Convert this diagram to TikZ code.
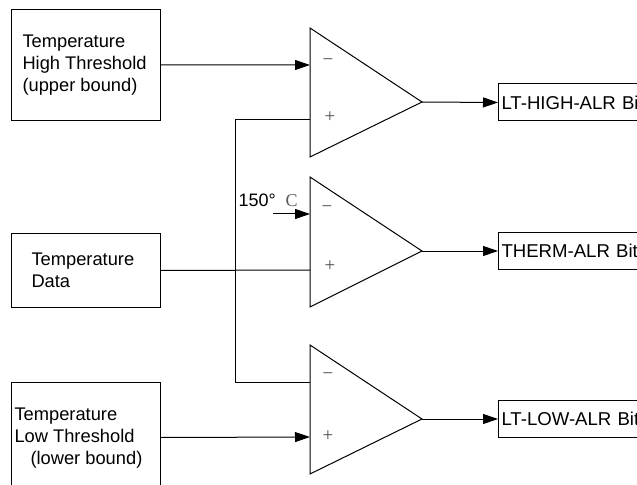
\documentclass[tikz,border=0pt]{standalone}
\usepackage{fontspec}
\setmainfont{Liberation Sans}
\newfontfamily\seriffont{Liberation Serif}
\usetikzlibrary{arrows.meta}
\begin{document}
\begin{tikzpicture}[x=1bp,y=-1bp, line width=1bp,
  box/.style={draw, inner sep=0pt},
  inbox/.style={box, anchor=north west, minimum width=149bp},
  outbox/.style={box, anchor=west, minimum height=37bp, text width=160bp, inner xsep=3bp, align=left,
     font=\fontsize{18.6bp}{22bp}\selectfont},
  lbl/.style={font=\fontsize{18.3bp}{22bp}\selectfont, align=left, inner sep=0pt, anchor=west},
  arr/.style={-{Triangle[length=15bp,width=10bp]}},
  cmp/.style={line join=miter},
  sgn/.style={font=\seriffont\fontsize{19bp}{19bp}\selectfont, text=black!70, inner sep=0pt}]
\useasboundingbox (0,0) rectangle (637,485);
\clip (0,0) rectangle (637,485);

% input boxes
\node[inbox, minimum height=111bp] (hi) at (11,9) {};
\node[lbl] (hitxt) at (22,65) {Temperature\\High Threshold\\(upper bound)};
\node[inbox, minimum height=74bp] (data) at (11,233) {};
\node[lbl] (datatxt) at (31,270) {Temperature\\Data};
\node[inbox, minimum height=110bp] (lo) at (11,382) {};
\node[lbl] (lotxt) at (14,438) {Temperature\\Low Threshold\\\hspace*{16bp}(lower bound)};

% comparator 1
\coordinate (c1t) at (310,28);
\coordinate (c1b) at (310,157);
\coordinate (c1o) at (422,102);
\coordinate (c1m) at (310,65);
\coordinate (c1p) at (310,120);
\draw[cmp] (c1t) -- (c1o) -- (c1b) -- cycle;
\node[sgn] (c1ms) at (328,62) {−};
\node[sgn] (c1ps) at (330,117) {+};

% comparator 2
\coordinate (c2t) at (310,177);
\coordinate (c2b) at (310,307);
\coordinate (c2o) at (422,251);
\coordinate (c2m) at (310,214);
\coordinate (c2p) at (310,270);
\draw[cmp] (c2t) -- (c2o) -- (c2b) -- cycle;
\node[sgn] (c2ms) at (327,209) {−};
\node[sgn] (c2ps) at (330,266) {+};

% comparator 3
\coordinate (c3t) at (310,345);
\coordinate (c3b) at (310,474);
\coordinate (c3o) at (422,419);
\coordinate (c3m) at (310,382);
\coordinate (c3p) at (310,437);
\draw[cmp] (c3t) -- (c3o) -- (c3b) -- cycle;
\node[sgn] (c3ms) at (328,376) {−};
\node[sgn] (c3ps) at (328,436) {+};

% output boxes
\node[outbox] (o1) at (498,102.5) {LT-HIGH-ALR Bit};
\node[outbox] (o2) at (498,251) {THERM-ALR Bit};
\node[outbox] (o3) at (498,419) {LT-LOW-ALR Bit};

% connectors
\draw[arr] (hi.east) -- (c1m);
\draw (data.east) -- (c2p);
\draw[arr] (lo.east) -- (c3p);
\coordinate (j1) at (235,120);
\coordinate (j2) at (235,382);
\draw (c1p) -- (j1) -- (j2) -- (c3m);
\coordinate (s150) at (273,214);
\draw[arr] (s150) -- (c2m);
\node[font=\fontsize{18bp}{18bp}\selectfont, inner sep=0pt, anchor=base west] (t150) at (238,207)
  {150°\hspace{10bp}{\seriffont\fontsize{18bp}{18bp}\selectfont\color{black!65}C}};
\draw[arr] (c1o) -- (o1.west);
\draw[arr] (c2o) -- (o2.west);
\draw[arr] (c3o) -- (o3.west);
\end{tikzpicture}
\end{document}
